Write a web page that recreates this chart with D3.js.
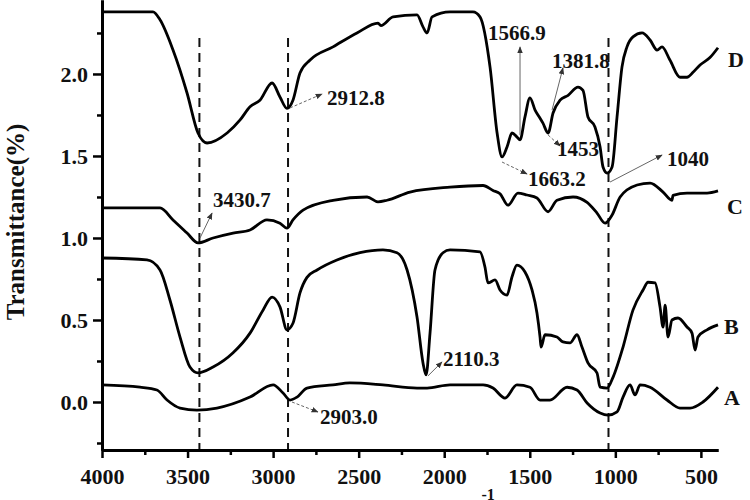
<!DOCTYPE html>
<html>
<head>
<meta charset="utf-8">
<script src="https://cdn.jsdelivr.net/npm/d3@7"></script>
<style>
  body { margin: 0; background: #fff; }
  svg text { font-family: "Liberation Serif", "Times New Roman", serif; font-weight: bold; fill: #111; }
</style>
</head>
<body>
<svg id="chart" width="750" height="500"></svg>
<script>
// spectra, [wavenumber, transmittance]
const curveD = [
  [4000, 2.378], [3702, 2.378], [3661, 2.33], [3585, 2.146], [3503, 1.884], [3439, 1.64],
  [3386, 1.579], [3269, 1.64], [3193, 1.72], [3135, 1.80], [3077, 1.84], [3006, 1.945],
  [2960, 1.86], [2919, 1.79], [2884, 1.84], [2843, 2.006], [2784, 2.085], [2650, 2.165],
  [2510, 2.25], [2387, 2.31], [2370, 2.295], [2299, 2.348], [2159, 2.36], [2124, 2.287],
  [2100, 2.25], [2071, 2.348], [1966, 2.378], [1832, 2.378], [1791, 2.348], [1732, 2.04],
  [1691, 1.64], [1662, 1.494], [1633, 1.555], [1604, 1.64], [1575, 1.616], [1557, 1.598],
  [1528, 1.738], [1499, 1.854], [1469, 1.78], [1440, 1.73], [1423, 1.70], [1393, 1.64],
  [1364, 1.762], [1323, 1.84], [1276, 1.87], [1218, 1.92], [1189, 1.90], [1160, 1.738],
  [1119, 1.677], [1089, 1.555], [1072, 1.433], [1048, 1.396], [1019, 1.433], [990, 1.738],
  [961, 2.043], [932, 2.165], [897, 2.226], [844, 2.25], [797, 2.207], [756, 2.146],
  [727, 2.165], [681, 2.085], [622, 1.98], [581, 1.98], [546, 2.01], [505, 2.055],
  [447, 2.10], [400, 2.16]
];
const curveC = [
  [4000, 1.183], [3661, 1.183], [3585, 1.11], [3503, 1.03], [3439, 0.97], [3351, 1.0],
  [3234, 1.03], [3135, 1.049], [3036, 1.11], [2960, 1.09], [2919, 1.06], [2884, 1.11],
  [2825, 1.17], [2650, 1.23], [2451, 1.25], [2387, 1.22], [2334, 1.23], [2200, 1.28],
  [1966, 1.31], [1773, 1.32], [1715, 1.29], [1674, 1.27], [1627, 1.20], [1569, 1.274],
  [1516, 1.262], [1458, 1.244], [1393, 1.16], [1341, 1.23], [1247, 1.25], [1165, 1.217],
  [1107, 1.152], [1060, 1.09], [1019, 1.14], [972, 1.25], [873, 1.323], [797, 1.335],
  [721, 1.28], [669, 1.23], [663, 1.26], [581, 1.274], [464, 1.274], [400, 1.287]
];
const curveB = [
  [4000, 0.878], [3737, 0.866], [3661, 0.805], [3603, 0.622], [3544, 0.396], [3486, 0.213],
  [3439, 0.177], [3351, 0.213], [3234, 0.30], [3135, 0.42], [3059, 0.56], [3006, 0.64],
  [2960, 0.58], [2919, 0.44], [2884, 0.48], [2843, 0.665], [2802, 0.76], [2743, 0.805],
  [2627, 0.866], [2492, 0.91], [2358, 0.927], [2276, 0.91], [2217, 0.805], [2159, 0.518],
  [2124, 0.238], [2106, 0.165], [2083, 0.42], [2054, 0.805], [2007, 0.91], [1966, 0.927],
  [1791, 0.915], [1762, 0.823], [1744, 0.726], [1703, 0.744], [1674, 0.683], [1633, 0.652],
  [1604, 0.762], [1575, 0.835], [1528, 0.793], [1487, 0.683], [1458, 0.543], [1440, 0.396],
  [1434, 0.335], [1411, 0.41], [1341, 0.396], [1306, 0.366], [1265, 0.36], [1224, 0.41],
  [1195, 0.335], [1160, 0.238], [1107, 0.177], [1089, 0.09], [1048, 0.085], [1013, 0.152],
  [955, 0.335], [897, 0.56], [838, 0.683], [809, 0.73], [768, 0.726], [739, 0.58],
  [721, 0.457], [709, 0.59], [692, 0.396], [669, 0.50], [634, 0.512], [581, 0.457],
  [552, 0.42], [534, 0.317], [517, 0.396], [464, 0.44], [400, 0.47]
];
const curveA = [
  [4000, 0.104], [3778, 0.09], [3679, 0.073], [3620, 0.012], [3544, -0.037], [3445, -0.049],
  [3328, -0.037], [3135, 0.03], [3000, 0.104], [2942, 0.055], [2901, 0.012], [2860, 0.03],
  [2802, 0.085], [2650, 0.104], [2551, 0.116], [2358, 0.104], [2159, 0.085], [2100, 0.085],
  [1966, 0.104], [1773, 0.104], [1715, 0.085], [1645, 0.024], [1575, 0.104], [1499, 0.09],
  [1440, 0.012], [1382, 0.012], [1282, 0.09], [1224, 0.073], [1165, -0.006], [1089, -0.067],
  [1043, -0.08], [990, -0.06], [955, 0.03], [914, 0.104], [885, 0.043], [855, 0.104],
  [797, 0.09], [698, 0.012], [622, -0.037], [563, -0.037], [488, 0], [400, 0.09]
];
const seriesNames = ["A", "B", "C", "D"];
const markLines = [3430.7, 2912.8, 1040];
const xTicks = [4000, 3500, 3000, 2500, 2000, 1500, 1000, 500];
const yTicks = [0, 0.5, 1.0, 1.5, 2.0];

// peak labels: text, point on curve, arrow tip, text spot (data coords)
const peakLabels = [
  { text: "3430.7", from: [3427, 1.0], to: [3357, 1.152], at: [3351, 1.189], dash: false },
  { text: "2912.8", from: [2901, 1.793], to: [2714, 1.878], at: [2685, 1.811], dash: true },
  { text: "1566.9", from: [1557, 1.628], to: [1557, 2.165], at: [1744, 2.207], dash: false },
  { text: "1381.8", from: [1370, 1.78], to: [1306, 2.037], at: [1370, 2.037], dash: false },
  { text: "1453", from: [1393, 1.628], to: [1323, 1.561], at: [1341, 1.5], dash: true },
  { text: "1663.2", from: [1662, 1.463], to: [1516, 1.39], at: [1510, 1.317], dash: true },
  { text: "1040", from: [1031, 1.341], to: [727, 1.506], at: [698, 1.439], dash: false },
  { text: "2110.3", from: [2095, 0.159], to: [2013, 0.244], at: [2007, 0.22], dash: false },
  { text: "2903.0", from: [2890, 0.0], to: [2738, -0.061], at: [2726, -0.134], dash: true }
];

const svg = d3.select("#chart");
const left = 102, right = 718, bottom = 450;

const x = d3.scaleLinear().domain([4000, 400]).range([left, right]);
const y = d3.scaleLinear().domain([-0.2927, 2.451]).range([bottom, 0]);

svg.append("defs").append("marker")
    .attr("id", "arr")
    .attr("viewBox", "0 0 10 10")
    .attr("refX", 9).attr("refY", 5)
    .attr("markerWidth", 7).attr("markerHeight", 7)
    .attr("orient", "auto")
  .append("path")
    .attr("d", "M0,1 L10,5 L0,9 z")
    .attr("fill", "#333");

// dashed guides
svg.selectAll(".guide")
  .data(markLines)
  .enter().append("line")
    .attr("x1", d => x(d)).attr("x2", d => x(d))
    .attr("y1", y(2.22)).attr("y2", bottom)
    .attr("stroke", "#111")
    .attr("stroke-width", 2)
    .attr("stroke-dasharray", "9,6");

// spectra
const line = d3.line()
    .x(d => x(d[0]))
    .y(d => y(d[1]))
    .curve(d3.curveMonotoneX);

const allCurves = [curveA, curveB, curveC, curveD];
svg.selectAll(".spec")
  .data(allCurves)
  .enter().append("path")
    .attr("d", line)
    .attr("fill", "none")
    .attr("stroke", "#000")
    .attr("stroke-width", 2.8)
    .attr("stroke-linejoin", "round");

// curve letters next to right end
const letterPos = { A: [724, 405], B: [724, 334], C: [727, 214], D: [728, 67] };
seriesNames.forEach(n => {
  svg.append("text")
      .attr("x", letterPos[n][0])
      .attr("y", letterPos[n][1])
      .attr("font-size", 22)
      .text(n);
});

// peak annotations
peakLabels.forEach(p => {
  svg.append("line")
      .attr("x1", x(p.from[0])).attr("y1", y(p.from[1]))
      .attr("x2", x(p.to[0])).attr("y2", y(p.to[1]))
      .attr("stroke", "#666")
      .attr("stroke-width", 1)
      .attr("stroke-dasharray", p.dash ? "3,2" : null)
      .attr("marker-end", "url(#arr)");
  svg.append("text")
      .attr("x", x(p.at[0]))
      .attr("y", y(p.at[1]))
      .attr("font-size", 21)
      .text(p.text);
});

// axes
const xAxis = svg.append("g")
    .attr("transform", `translate(0,${bottom})`)
    .call(d3.axisBottom(x).tickValues(xTicks).tickFormat(d3.format("d")).tickSize(8).tickSizeOuter(0));
svg.append("g")
    .attr("transform", `translate(0,${bottom})`)
    .call(d3.axisBottom(x).tickValues(d3.range(3750, 600, -500)).tickFormat("").tickSize(5).tickSizeOuter(0));

const yAxis = svg.append("g")
    .attr("transform", `translate(${left},0)`)
    .call(d3.axisLeft(y).tickValues(yTicks).tickFormat(d3.format(".1f")).tickSize(9).tickSizeOuter(0));
svg.append("g")
    .attr("transform", `translate(${left},0)`)
    .call(d3.axisLeft(y).tickValues([-0.25, 0.25, 0.75, 1.25, 1.75, 2.25]).tickFormat("").tickSize(5).tickSizeOuter(0));

svg.selectAll(".domain").attr("stroke", "#000").attr("stroke-width", 3);
svg.selectAll(".tick line").attr("stroke", "#000").attr("stroke-width", 2.5);
xAxis.selectAll("text")
    .attr("font-size", 22)
    .attr("font-family", "Liberation Serif")
    .attr("font-weight", "bold")
    .attr("fill", "#111")
    .attr("dy", "1.05em");
yAxis.selectAll("text")
    .attr("font-size", 22)
    .attr("font-family", "Liberation Serif")
    .attr("font-weight", "bold")
    .attr("fill", "#111")
    .attr("x", -14);

// axis titles
svg.append("text")
    .attr("transform", "translate(24,222) rotate(-90)")
    .attr("text-anchor", "middle")
    .attr("font-size", 25)
    .text("Transmittance(%)");

// x title sits mostly below the frame, as in the source image
const xt = svg.append("text")
    .attr("x", 319)
    .attr("y", 517)
    .attr("font-size", 22);
xt.append("tspan").text("Wavenumber(cm");
xt.append("tspan").attr("font-size", 16).attr("dy", -17).text("-1");
xt.append("tspan").attr("dy", 17).text(")");
</script>
</body>
</html>
